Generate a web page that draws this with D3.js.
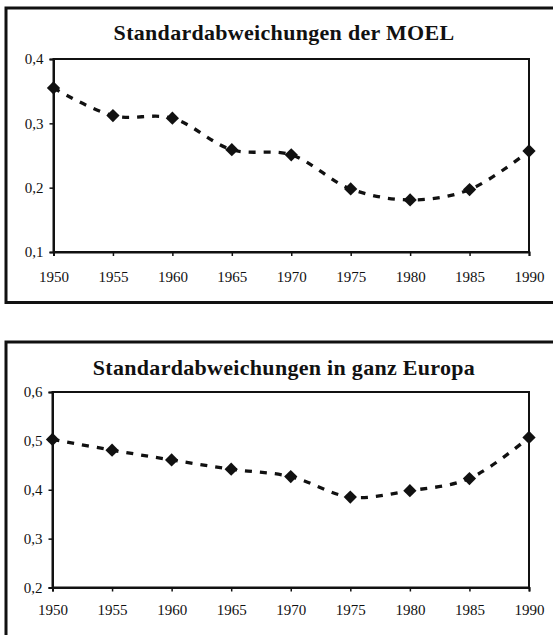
<!DOCTYPE html>
<html>
<head>
<meta charset="utf-8">
<script src="https://cdn.jsdelivr.net/npm/d3@7"></script>
<style>
  body { margin: 0; background: #fff; }
  svg { display: block; font-family: "Liberation Serif", "Times New Roman", serif; }
</style>
</head>
<body>
<svg id="main" width="553" height="635"></svg>
<script>
const years = [1950, 1955, 1960, 1965, 1970, 1975, 1980, 1985, 1990];
const moelValues = [0.355, 0.312, 0.308, 0.259, 0.251, 0.198, 0.181, 0.197, 0.257];
const europaValues = [0.503, 0.481, 0.461, 0.442, 0.427, 0.385, 0.398, 0.423, 0.507];
const moelTicks = [0.1, 0.2, 0.3, 0.4];
const europaTicks = [0.2, 0.3, 0.4, 0.5, 0.6];
const titles = ['Standardabweichungen der MOEL', 'Standardabweichungen in ganz Europa'];

const ink = '#111';
const svg = d3.select('#main');
const fmt = d => d.toFixed(1).replace('.', ',');

// one framed panel per series
const panels = [
    {
        frame: { x: 6, y: 8, w: 560, h: 294.5 },
        plot: { left: 53.5, right: 529, top: 59, bottom: 252 },
        titleY: 40,
        xPad: 15,
        values: moelValues,
        ticks: moelTicks,
        title: titles[0]
    },
    {
        frame: { x: 6, y: 342, w: 560, h: 320 },
        plot: { left: 52.5, right: 529, top: 392, bottom: 587.5 },
        titleY: 375,
        xPad: 12.5,
        values: europaValues,
        ticks: europaTicks,
        title: titles[1]
    }
];

panels.forEach(p => {
    const data = years.map((y, i) => ({ year: y, value: p.values[i] }));

    svg.append('rect')
        .attr('x', p.frame.x)
        .attr('y', p.frame.y)
        .attr('width', p.frame.w)
        .attr('height', p.frame.h)
        .attr('fill', 'none')
        .attr('stroke', ink)
        .attr('stroke-width', 3);

    svg.append('text')
        .text(p.title)
        .attr('x', 284)
        .attr('y', p.titleY)
        .attr('text-anchor', 'middle')
        .attr('font-size', 22)
        .attr('font-weight', 'bold')
        .attr('letter-spacing', 0.3)
        .attr('fill', ink);

    const xScale = d3.scaleLinear()
        .domain(d3.extent(years))
        .range([p.plot.left, p.plot.right]);
    const yScale = d3.scaleLinear()
        .domain(d3.extent(p.ticks))
        .range([p.plot.bottom, p.plot.top]);

    svg.append('rect')
        .attr('x', p.plot.left)
        .attr('y', p.plot.top)
        .attr('width', p.plot.right - p.plot.left)
        .attr('height', p.plot.bottom - p.plot.top)
        .attr('fill', 'none')
        .attr('stroke', ink)
        .attr('stroke-width', 2);

    const xAxis = svg.append('g')
        .attr('transform', `translate(0, ${p.plot.bottom})`)
        .call(d3.axisBottom(xScale).tickValues(years).tickFormat(d3.format('d'))
            .tickSize(4).tickPadding(p.xPad));
    const yAxis = svg.append('g')
        .attr('transform', `translate(${p.plot.left}, 0)`)
        .call(d3.axisLeft(yScale).tickValues(p.ticks).tickFormat(fmt)
            .tickSize(4).tickPadding(6));

    [xAxis, yAxis].forEach(ax => {
        ax.select('.domain').attr('stroke', ink).attr('stroke-width', 2);
        ax.selectAll('.tick line').attr('stroke', ink).attr('stroke-width', 1.5);
        ax.selectAll('.tick text')
            .attr('fill', ink)
            .attr('font-size', 15)
            .attr('font-family', '"Liberation Serif", "Times New Roman", serif');
    });

    const line = d3.line()
        .x(d => xScale(d.year))
        .y(d => yScale(d.value))
        .curve(d3.curveCatmullRom.alpha(0.5));

    svg.append('path')
        .attr('d', line(data))
        .attr('fill', 'none')
        .attr('stroke', ink)
        .attr('stroke-width', 3.3)
        .attr('stroke-dasharray', '7,8');

    svg.selectAll(null)
        .data(data)
        .join('path')
        .attr('d', d3.symbol(d3.symbolSquare, 88))
        .attr('transform', d => `translate(${xScale(d.year)}, ${yScale(d.value)}) rotate(45)`)
        .attr('fill', ink);
});
</script>
</body>
</html>
